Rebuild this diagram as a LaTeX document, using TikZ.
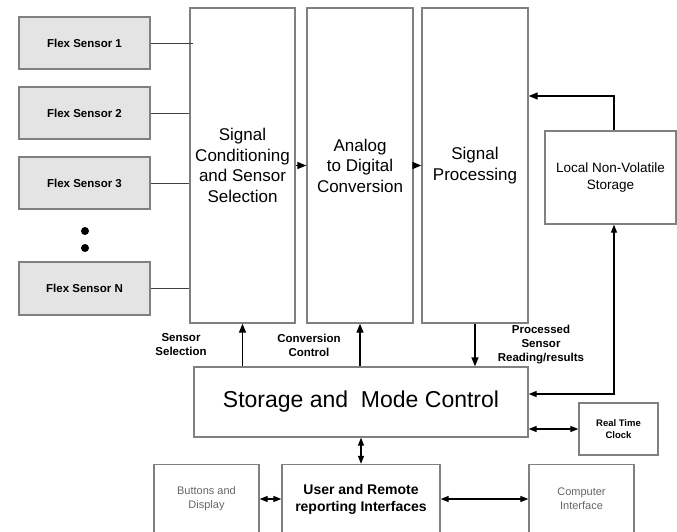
\documentclass[tikz,border=0pt]{standalone}
\usepackage{fontspec}
\setmainfont{Liberation Sans}
\usetikzlibrary{arrows.meta}
\definecolor{bordergray}{HTML}{808080}
\definecolor{fillgray}{HTML}{E4E4E4}
\definecolor{textgray}{HTML}{666666}
\begin{document}
\begin{tikzpicture}[x=1pt,y=-1pt,
  box/.style={draw=bordergray,line width=1.3pt,fill=white,inner sep=0pt,align=center},
  flexbox/.style={box,fill=fillgray,minimum width=131pt,minimum height=52pt,font=\bfseries\fontsize{11.5}{14}\selectfont},
  tallbox/.style={box,minimum height=315pt,font=\fontsize{17}{20.5}\selectfont},
  lowbox/.style={box,minimum height=69pt},
  arr/.style={line width=1.3pt,-{Triangle[length=9pt,width=7pt]}},
  darr/.style={line width=1.2pt,{Triangle[length=8pt,width=6pt]}-{Triangle[length=8pt,width=6pt]}},
  wire/.style={line width=0.8pt,draw=black!75},
  lbl/.style={align=center,inner sep=0pt,font=\bfseries\fontsize{11.5}{14}\selectfont}]
\useasboundingbox (0,0) rectangle (677,532);
\clip (0,0) rectangle (677,532);
\fill[white] (0,0) rectangle (677,532);

% flex sensors
\node[flexbox] (f1) at (84.5,43) {Flex Sensor 1};
\node[flexbox] (f2) at (84.5,113) {Flex Sensor 2};
\node[flexbox] (f3) at (84.5,183) {Flex Sensor 3};
\node[flexbox,minimum height=53pt] (fN) at (84.5,288.5) {Flex Sensor N};
\fill (85,231) circle (4pt);
\fill (85,248) circle (4pt);

% tall processing boxes
\node[tallbox,minimum width=105pt] (sc) at (242.5,165.5) {Signal\\Conditioning\\and Sensor\\Selection};
\node[tallbox,minimum width=106pt] (adc) at (360,165.5) {Analog\\to Digital\\Conversion};
\node[tallbox,minimum width=106pt] (sp) at (475,165.5) {Signal\\Processing};

% local storage
\node[box,minimum width=131pt,minimum height=93pt,font=\fontsize{13.5}{16.5}\selectfont] (lnvs) at (610.5,177.5) {Local Non-Volatile\\Storage};

% storage and mode control
\node[box,minimum width=334pt,minimum height=70pt,font=\fontsize{23}{27}\selectfont] (smc) at (361,402) {Storage and\ \ Mode Control};

% real time clock
\node[box,minimum width=79pt,minimum height=52pt,font=\bfseries\fontsize{9.5}{12}\selectfont] (rtc) at (618.5,429) {Real Time\\Clock};

% bottom row
\node[lowbox,minimum width=158pt,font=\bfseries\fontsize{14}{17}\selectfont] (user) at (361,499) {User and Remote\\reporting Interfaces};
\node[lowbox,minimum width=105pt,text=textgray,font=\fontsize{11}{14}\selectfont] (btn) at (206.5,499) {Buttons and\\Display};
\node[lowbox,minimum width=105pt,text=textgray,font=\fontsize{11}{14}\selectfont] (pc) at (581.5,499) {Computer\\Interface};

% sensor wires
\draw[wire] (f1.east) -- ([xshift=4pt]f1.east -| sc.west);
\draw[wire] (f2.east) -- (f2.east -| sc.west);
\draw[wire] (f3.east) -- (f3.east -| sc.west);
\draw[wire] (fN.east) -- (fN.east -| sc.west);

% chain arrows
\draw[arr] (sc.east) -- (adc.west);
\draw[arr] (adc.east) -- (sp.west);

% control arrows
\draw[arr] (smc.north -| sc.south) -- (sc.south);
\draw[arr] (smc.north -| adc.south) -- (adc.south);
\draw[arr] (sp.south) -- (sp.south |- smc.north);

% local storage links
\coordinate (t1) at (614,96);
\coordinate (t2) at (614,394);
\draw[arr] (lnvs.north -| t1) -- (t1) -- (t1 -| sp.east);
\draw[darr,line width=1.3pt] (t2 -| smc.east) -- (t2) -- (lnvs.south -| t2);

% rtc and bottom links
\draw[darr] (smc.east |- rtc.west) -- (rtc.west);
\draw[darr] (smc.south) -- (user.north);
\draw[darr] (btn.east) -- (user.west);
\draw[darr] (user.east) -- (pc.west);

% labels
\node[lbl] (l1) at (181,345) {Sensor\\Selection};
\node[lbl] (l2) at (309,345) {Conversion\\Control};
\node[lbl] (l3) at (541,345) {Processed\\Sensor\\Reading/results};
\end{tikzpicture}
\end{document}
